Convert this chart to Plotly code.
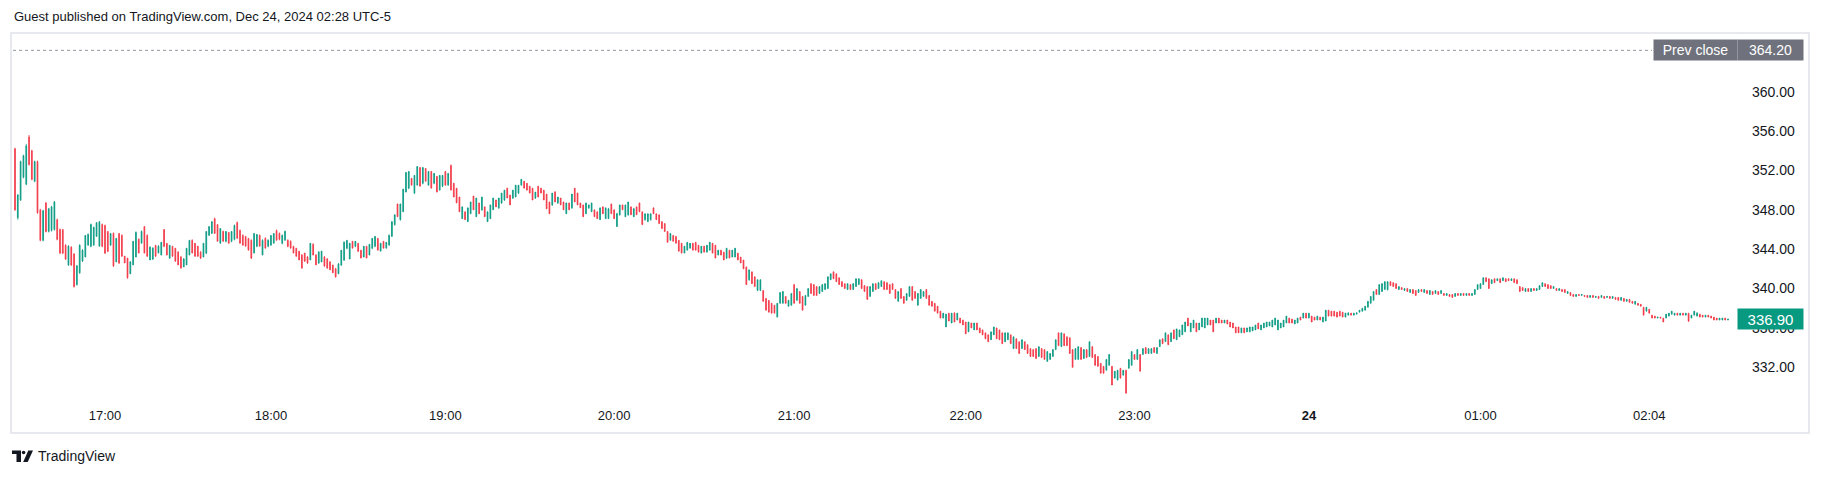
import plotly.graph_objects as go

# ---------------- data (1-minute candles) ----------------
opens = [
354.2,347.2,349.0,351.3,350.6,355.4,354.0,350.9,352.9,348.0,
344.9,348.7,345.8,345.9,346.0,347.0,346.0,346.0,344.4,342.4,
344.2,343.5,340.4,341.6,342.8,343.2,344.4,344.3,344.4,345.3,
344.3,346.5,346.4,345.8,344.4,345.6,342.7,345.6,345.4,343.3,
343.1,341.5,342.4,343.2,345.0,344.6,346.3,345.4,342.9,343.0,
344.4,343.6,343.4,346.0,344.6,343.1,344.3,344.1,343.7,343.2,
342.2,342.4,343.4,344.9,344.6,344.3,343.7,343.2,343.6,345.4,
345.6,347.1,346.5,344.6,345.8,344.8,345.7,344.8,345.0,346.7,
345.9,345.4,345.3,345.1,344.9,343.6,344.3,345.4,343.4,345.1,
344.3,344.4,344.6,345.9,345.6,344.6,344.9,344.9,344.8,344.3,
344.1,343.8,343.4,343.6,343.2,342.9,344.5,343.4,342.6,342.7,
343.2,343.0,342.7,342.4,342.0,341.5,342.4,342.9,344.1,343.0,
344.8,344.3,344.6,343.9,343.2,344.3,343.4,344.1,344.3,345.1,
343.8,344.8,344.1,344.4,345.3,346.5,348.6,347.0,347.8,349.8,
350.2,351.2,349.7,350.5,352.3,350.7,352.2,350.5,351.9,350.7,
351.4,350.0,350.4,351.9,350.5,352.5,350.7,350.2,349.3,347.1,
347.8,346.8,347.6,349.4,347.3,348.7,348.0,348.3,346.8,347.1,
348.0,349.0,348.2,348.7,349.0,350.2,349.5,349.2,349.3,349.7,
350.5,350.9,350.7,350.4,350.2,349.2,350.4,350.2,350.0,349.6,
348.8,348.5,349.8,348.7,349.2,348.8,347.6,348.7,348.2,350.2,
349.7,348.7,348.5,347.6,348.2,347.8,348.0,347.8,347.0,348.3,
347.1,347.1,348.6,348.0,346.3,347.5,348.5,347.3,347.5,348.3,
347.3,348.3,348.7,347.8,347.0,346.8,347.0,348.2,347.6,347.5,
346.8,346.6,345.8,344.9,345.4,345.3,344.9,344.6,343.6,343.9,
344.1,344.6,344.7,344.4,343.6,344.3,343.7,343.9,344.6,344.4,
343.4,343.9,343.7,343.1,343.9,343.2,343.2,343.6,343.2,342.9,
342.2,340.9,341.7,341.2,339.8,339.8,339.8,339.0,338.8,338.5,
338.3,337.1,338.5,338.5,339.2,338.2,338.3,340.4,338.8,339.7,
339.2,338.3,339.2,340.5,340.4,340.2,339.5,339.7,339.9,340.0,
340.9,341.7,341.5,341.1,340.7,340.5,339.9,340.4,339.9,340.2,
340.4,340.9,340.3,340.2,339.2,339.7,340.5,340.0,340.2,340.7,
340.6,340.4,340.5,339.9,338.7,340.0,339.2,338.8,339.2,340.2,
339.7,338.3,339.0,339.2,339.9,339.3,338.7,338.5,338.2,337.7,
337.0,336.1,337.5,336.5,337.5,336.8,337.0,336.8,336.6,335.6,
336.5,335.8,336.5,336.0,335.8,335.5,335.3,334.8,335.3,336.0,
335.8,335.5,334.6,334.8,335.3,333.9,334.9,334.6,333.9,334.6,
334.3,333.9,333.8,333.9,333.1,333.9,333.8,332.6,332.8,333.1,
333.8,335.5,334.1,335.4,335.1,335.0,333.8,332.8,332.8,334.0,
332.9,333.8,333.1,334.1,333.3,333.1,332.4,332.1,331.7,332.2,
332.1,330.9,330.7,331.9,331.2,331.7,331.9,332.2,333.3,332.8,
333.3,333.3,334.0,333.4,333.4,334.0,333.4,334.1,334.9,334.6,
335.3,334.6,335.8,334.8,335.1,335.3,335.6,337.0,335.6,336.0,
336.5,335.8,336.1,336.0,336.3,336.8,336.8,336.5,337.0,336.8,
336.5,336.8,336.6,336.5,336.1,336.1,335.5,336.0,335.6,335.6,
335.7,335.8,336.5,335.8,336.0,336.1,336.2,336.1,336.3,335.8,
336.0,336.1,336.5,337.0,336.9,336.4,336.5,337.1,337.0,337.5,
337.0,337.2,337.1,336.8,337.1,336.6,336.7,337.8,337.7,337.7,
337.6,337.7,337.6,337.1,337.3,337.5,337.3,337.4,337.6,337.7,
337.8,338.1,338.5,338.8,339.9,339.4,339.7,339.9,339.9,340.7,
340.6,340.5,339.9,340.1,339.8,340.0,339.6,339.9,339.8,339.6,
339.9,339.6,339.8,339.4,339.7,339.5,339.7,339.5,339.5,339.3,
339.4,339.4,339.2,339.5,339.3,339.5,339.3,339.5,339.3,339.4,
339.9,340.0,340.4,341.1,341.0,340.5,341.0,340.8,341.0,340.8,
341.0,341.0,340.8,341.0,340.9,340.2,340.1,339.7,340.0,339.7,
340.0,339.8,339.9,340.2,340.5,340.4,340.3,340.0,340.0,339.8,
339.9,339.9,339.5,339.6,339.4,339.2,339.4,339.3,339.3,339.3,
339.1,339.3,339.1,339.2,339.1,339.2,339.1,339.2,339.0,339.1,
339.1,338.8,339.0,338.7,338.9,338.7,338.4,338.5,338.4,338.1,
337.7,337.9,337.3,337.2,337.0,337.1,337.0,337.0,337.2,337.4,
337.3,337.5,337.3,337.5,337.3,337.5,337.0,337.3,337.2,337.4,
337.3,337.1,337.3,337.2,337.1,337.0,336.8,336.8,337.0,336.8,
]
highs = [
354.3,349.6,353.0,353.6,354.7,355.6,354.1,353.0,353.0,348.1,
348.0,348.8,348.2,348.4,348.9,347.1,346.1,346.0,344.5,344.4,
344.3,343.6,342.4,344.5,344.0,345.4,345.6,346.6,346.3,346.7,
346.8,346.6,346.5,345.8,345.6,345.7,345.1,345.6,345.5,343.3,
343.1,342.8,344.8,345.8,345.1,345.9,346.3,345.5,344.3,344.2,
344.4,344.4,344.7,346.0,344.6,344.4,344.3,344.1,343.8,343.3,
343.1,344.1,344.9,345.0,344.6,344.3,343.8,344.6,345.8,346.3,
346.8,347.2,346.5,346.1,345.9,345.8,345.7,345.8,346.5,346.8,
346.0,345.5,345.3,345.1,345.0,345.6,345.5,345.5,345.0,345.2,
345.0,345.4,345.6,346.0,345.7,345.5,345.9,345.0,344.9,344.3,
344.1,343.8,343.5,343.6,343.3,344.6,344.6,343.5,343.8,343.8,
343.3,343.1,342.8,342.4,342.1,342.6,343.9,344.8,344.9,344.6,
344.8,344.8,344.6,343.9,344.3,344.3,344.5,345.1,345.3,345.1,
344.6,344.8,344.7,345.5,346.8,347.5,348.6,348.6,350.1,351.8,
351.9,351.2,351.5,352.4,352.3,352.3,352.2,351.9,351.9,351.7,
351.4,351.5,351.5,351.9,351.7,352.6,350.7,350.2,349.3,348.3,
347.8,348.2,348.8,349.4,349.2,348.7,349.3,348.3,347.8,348.5,
349.2,349.0,349.2,349.7,350.0,350.2,349.5,350.0,350.5,350.5,
351.1,350.9,350.7,350.4,350.2,349.8,350.4,350.2,350.0,349.6,
348.8,349.7,349.9,349.3,349.2,348.8,348.7,348.7,349.6,350.2,
349.7,348.7,348.5,348.7,348.5,348.7,348.0,347.8,348.2,348.3,
348.2,348.2,348.6,348.0,347.7,348.5,348.5,348.5,348.8,348.3,
348.2,348.3,348.7,347.8,347.6,347.6,347.6,348.2,347.6,347.5,
346.8,346.6,345.8,345.6,345.4,345.3,344.9,344.6,344.3,344.7,
344.6,344.6,344.7,344.4,344.3,344.3,344.4,344.7,344.6,344.4,
343.9,343.9,343.7,344.1,343.9,343.9,344.1,343.6,343.2,342.9,
342.2,341.9,341.7,341.2,340.9,340.9,339.8,339.0,338.8,338.5,
338.3,338.5,339.6,339.7,339.2,338.8,339.5,340.4,340.0,339.7,
339.2,339.3,340.0,340.5,340.4,340.2,340.2,340.4,340.5,341.2,
341.5,341.7,341.5,341.1,340.7,340.5,340.5,340.4,340.5,341.0,
341.0,340.9,340.3,340.2,340.2,340.5,340.5,340.6,340.8,340.7,
340.6,340.4,340.5,339.9,339.7,340.0,339.2,339.5,340.2,340.2,
339.7,339.5,339.9,339.7,339.9,339.3,338.7,338.5,338.2,337.7,
337.5,337.4,337.5,337.5,337.6,337.5,337.0,336.8,336.6,336.6,
336.5,336.5,336.5,336.0,335.8,335.5,335.3,335.6,336.1,336.0,
335.8,335.5,335.5,335.5,335.3,335.1,334.9,334.6,334.8,334.6,
334.3,333.9,333.8,333.9,334.1,333.9,333.8,333.6,333.4,333.8,
334.8,335.5,335.5,335.4,335.1,335.0,333.8,333.9,334.1,334.0,
333.8,333.8,334.6,334.1,333.3,333.1,332.4,332.1,332.8,333.3,
332.1,331.6,331.7,331.9,331.7,331.7,332.8,333.6,333.3,333.8,
333.3,333.9,334.0,333.9,333.9,334.0,334.0,334.8,334.9,335.5,
335.3,335.5,335.8,335.9,335.8,336.3,336.6,337.0,336.5,336.8,
336.5,336.5,337.0,337.0,337.0,336.8,336.8,337.0,337.0,336.8,
336.8,336.8,336.6,336.5,336.1,336.1,336.0,336.0,336.0,336.1,
336.1,336.3,336.5,336.3,336.5,336.6,336.6,336.8,337.0,336.8,
336.5,336.8,337.2,337.0,336.9,336.8,337.0,337.1,337.5,337.5,
337.5,337.2,337.1,337.2,337.1,337.1,337.8,337.8,337.7,337.7,
337.6,337.7,337.6,337.5,337.6,337.5,337.5,337.6,337.8,338.0,
338.2,338.7,339.2,339.7,339.9,340.4,340.5,340.7,340.7,340.7,
340.6,340.5,340.2,340.1,340.0,340.0,339.9,339.9,339.8,339.9,
339.9,339.9,339.8,339.8,339.7,339.8,339.7,339.8,339.5,339.5,
339.4,339.4,339.5,339.5,339.5,339.5,339.5,339.5,339.5,339.9,
340.4,340.5,341.1,341.1,341.0,340.9,341.0,341.0,341.0,341.1,
341.0,341.0,341.0,341.0,340.9,340.2,340.1,340.0,340.0,340.0,
340.0,340.0,340.3,340.6,340.5,340.4,340.3,340.2,340.0,340.0,
339.9,339.9,339.7,339.6,339.4,339.4,339.4,339.4,339.3,339.3,
339.3,339.3,339.2,339.2,339.3,339.2,339.2,339.2,339.2,339.1,
339.1,339.1,339.0,338.9,338.9,338.7,338.7,338.5,338.4,338.1,
338.1,337.9,337.3,337.2,337.1,337.1,337.0,337.4,337.5,337.7,
337.5,337.5,337.5,337.5,337.5,337.5,337.3,337.7,337.6,337.4,
337.3,337.3,337.3,337.2,337.1,337.0,337.0,337.0,337.0,336.9,
]
lows = [
347.9,347.0,348.9,351.2,350.5,352.5,351.0,350.8,347.6,344.8,
344.8,345.7,345.7,345.8,345.9,344.9,343.5,343.5,342.9,342.3,
342.3,340.1,340.3,341.5,342.7,343.2,344.4,344.2,344.4,345.3,
344.3,344.2,343.5,343.7,344.4,342.2,342.7,342.5,343.2,342.6,
341.0,341.5,342.4,343.2,343.6,344.6,343.6,343.2,342.9,342.9,
343.2,343.6,343.4,344.2,343.4,343.0,343.2,342.7,342.4,342.0,
342.2,342.4,343.4,343.6,343.2,343.2,343.0,343.2,343.5,345.4,
345.6,345.6,344.8,344.6,344.8,344.7,344.6,344.7,344.9,345.1,
344.6,344.4,344.3,343.9,343.0,343.6,344.2,344.3,343.4,344.1,
344.2,344.4,344.6,344.9,344.9,344.5,344.9,344.2,344.1,343.6,
343.2,342.9,342.0,342.7,342.5,342.9,343.4,342.4,342.5,342.7,
342.2,342.0,341.9,341.6,341.1,341.5,342.3,342.8,344.0,343.0,
344.1,344.2,343.7,343.1,343.2,343.1,343.4,344.0,344.2,343.9,
343.8,344.1,344.1,344.4,345.3,346.4,347.3,346.9,347.8,349.8,
350.1,350.5,349.6,350.5,350.4,350.6,350.9,350.5,350.2,350.6,
349.8,350.0,350.3,350.5,350.5,350.0,349.3,348.7,347.8,347.1,
347.0,346.8,347.6,348.0,347.3,347.6,347.9,347.3,346.8,347.1,
348.0,348.3,348.1,348.6,348.9,349.2,348.5,349.1,349.3,349.6,
350.5,350.2,350.0,349.7,349.0,349.1,349.3,349.7,349.0,348.1,
347.6,348.4,348.8,348.6,348.5,348.0,347.6,348.0,348.1,348.8,
348.5,348.2,347.3,347.6,348.1,347.8,347.3,347.1,347.0,347.6,
347.1,347.1,347.6,347.1,346.3,347.4,348.0,347.3,347.4,347.5,
347.3,347.5,347.8,346.5,346.9,346.8,346.9,347.6,347.0,346.6,
346.1,345.8,344.7,344.9,344.8,344.6,343.8,343.6,343.6,343.9,
344.1,343.9,343.9,343.7,343.6,343.7,343.7,343.9,343.6,343.1,
343.4,343.4,342.9,343.0,343.1,343.2,343.2,342.9,342.6,342.0,
340.4,340.8,340.5,340.2,339.8,339.8,338.7,337.8,337.6,337.5,
337.5,337.1,338.5,338.5,338.5,338.2,338.3,338.5,338.8,338.5,
337.8,338.3,339.2,339.5,339.3,339.3,339.5,339.7,339.9,340.0,
340.9,341.0,340.7,340.4,340.2,340.0,339.9,339.9,339.9,340.2,
340.4,340.0,339.7,338.9,339.2,339.7,339.9,340.0,340.2,339.9,
339.9,339.5,339.9,339.0,338.7,339.0,338.5,338.8,339.2,338.8,
339.0,338.3,339.0,339.2,339.0,338.3,338.2,337.7,337.5,337.0,
337.0,336.1,336.7,336.5,336.6,336.8,336.5,336.3,335.4,335.6,
336.0,335.8,335.8,335.5,335.3,334.9,334.6,334.8,335.3,334.9,
334.8,334.4,334.6,334.8,334.4,333.9,333.9,333.4,333.9,333.8,
333.4,333.1,333.1,332.9,333.1,333.0,332.8,332.6,332.8,333.1,
333.8,334.2,334.1,334.2,334.2,333.4,332.0,332.8,332.8,332.8,
332.9,333.0,333.1,333.0,332.2,332.1,331.4,331.4,331.7,332.2,
330.2,330.9,330.7,330.9,331.2,329.3,331.9,332.2,332.8,332.8,
331.6,333.3,333.4,333.4,333.4,333.5,333.4,334.1,334.4,334.6,
334.3,334.6,334.9,334.8,335.1,335.3,335.6,336.2,335.6,336.0,
335.6,335.8,336.1,336.0,336.3,336.3,335.6,336.5,336.5,336.5,
336.5,336.4,336.1,336.0,335.5,335.5,335.5,335.5,335.6,335.6,
335.7,335.8,335.9,335.8,336.0,336.1,336.2,336.1,336.3,335.8,
336.0,336.1,336.5,336.5,336.5,336.4,336.5,336.8,337.0,337.0,
337.0,336.6,336.8,336.8,336.8,336.6,336.7,337.2,337.2,337.2,
337.1,337.2,337.1,337.1,337.3,337.3,337.3,337.4,337.6,337.7,
337.8,338.1,338.5,338.8,339.4,339.4,339.7,339.9,339.8,340.3,
340.2,340.0,339.9,339.9,339.8,339.7,339.6,339.5,339.3,339.6,
339.7,339.6,339.5,339.4,339.4,339.5,339.4,339.5,339.3,339.3,
339.2,339.1,339.2,339.3,339.3,339.3,339.3,339.3,339.3,339.4,
339.9,340.0,340.4,340.7,340.0,340.5,340.6,340.8,340.6,340.8,
340.7,340.8,340.8,340.6,340.5,339.7,339.8,339.7,339.7,339.7,
339.8,339.8,339.9,340.2,340.2,340.0,340.0,340.0,339.8,339.8,
339.7,339.6,339.5,339.3,339.2,339.2,339.3,339.3,339.2,339.1,
339.1,339.1,339.1,339.0,339.1,339.0,339.1,339.0,339.0,338.9,
338.8,338.8,338.7,338.7,338.6,338.5,338.4,338.3,338.2,337.3,
337.7,337.5,337.0,337.0,337.0,337.0,336.6,337.0,337.2,337.4,
337.3,337.3,337.3,337.3,337.3,336.6,337.0,337.3,337.2,337.1,
337.1,337.1,337.1,337.0,336.8,336.8,336.8,336.8,336.8,336.8,
]
closes = [
348.0,349.5,352.9,353.5,354.5,352.6,351.1,352.9,347.7,344.9,
347.9,345.8,348.1,348.3,348.8,345.0,343.6,343.6,343.0,344.3,
342.4,340.2,342.3,344.4,343.9,345.4,345.5,346.5,346.2,346.7,
346.8,344.3,343.6,343.8,345.6,342.3,345.1,342.6,343.3,342.6,
341.1,342.7,344.8,345.7,343.6,345.8,343.6,343.3,344.2,344.1,
343.3,344.3,344.7,344.3,343.4,344.4,343.3,342.8,342.4,342.1,
343.0,344.1,344.9,343.6,343.3,343.3,343.1,344.6,345.8,346.3,
346.8,345.6,344.8,346.1,344.8,345.8,344.6,345.8,346.4,345.1,
344.6,344.4,344.3,343.9,343.1,345.6,345.5,344.3,344.9,344.1,
344.9,345.4,345.6,344.9,345.0,345.4,345.8,344.3,344.1,343.6,
343.3,342.9,342.1,342.8,342.6,344.6,343.4,342.4,343.7,343.8,
342.3,342.1,341.9,341.6,341.2,342.5,343.9,344.7,344.9,344.6,
344.1,344.8,343.8,343.1,344.3,343.1,344.5,345.1,345.3,343.9,
344.6,344.1,344.7,345.4,346.8,347.5,347.3,348.6,350.1,351.8,
351.9,350.5,351.5,352.4,350.4,352.3,350.9,351.9,350.2,351.7,
349.8,351.5,351.5,350.5,351.7,350.0,349.3,348.7,347.8,348.3,
347.0,348.2,348.8,348.0,349.2,347.6,349.3,347.3,347.8,348.5,
349.2,348.3,349.2,349.7,350.0,349.2,348.5,350.0,350.5,350.5,
351.1,350.2,350.0,349.7,349.0,349.8,349.3,349.7,349.0,348.1,
347.6,349.7,348.8,349.3,348.5,348.0,348.7,348.0,349.6,348.8,
348.5,348.2,347.3,348.7,348.5,348.7,347.3,347.1,348.2,347.6,
348.2,348.1,347.6,347.1,347.6,348.5,348.0,348.5,348.8,347.5,
348.1,347.5,347.8,346.5,347.6,347.6,347.6,347.6,347.0,346.6,
346.1,345.8,344.7,345.6,344.8,344.6,343.8,343.6,344.3,344.7,
344.6,343.9,343.9,343.7,344.3,343.7,344.4,344.7,343.6,343.1,
343.9,343.4,342.9,344.1,343.1,343.9,344.1,342.9,342.6,342.0,
340.4,341.9,340.5,340.2,340.9,340.9,338.7,337.8,337.6,337.5,
337.5,338.5,339.6,339.7,338.5,338.8,339.5,338.5,340.0,338.5,
337.8,339.3,340.0,339.5,339.3,339.3,340.2,340.4,340.5,341.2,
341.5,341.0,340.7,340.4,340.2,340.0,340.5,339.9,340.5,341.0,
341.0,340.0,339.7,338.9,340.2,340.5,339.9,340.6,340.8,339.9,
339.9,339.5,339.9,339.0,339.7,339.0,338.5,339.5,340.2,338.8,
339.0,339.5,339.9,339.7,339.0,338.3,338.2,337.7,337.5,337.0,
337.5,337.4,336.7,337.5,336.6,337.5,336.5,336.3,335.4,336.6,
336.0,336.5,335.8,335.5,335.3,334.9,334.6,335.6,336.1,334.9,
334.8,334.4,335.5,335.5,334.4,335.1,333.9,333.4,334.8,333.8,
333.4,333.1,333.1,332.9,334.1,333.0,332.8,333.6,333.4,333.8,
334.8,334.2,335.5,334.2,334.2,333.4,332.0,333.9,334.1,332.8,
333.8,333.0,334.6,333.0,332.2,332.1,331.4,331.4,332.8,333.3,
330.2,331.6,331.7,330.9,331.7,329.4,332.8,333.6,332.8,333.8,
331.6,333.9,333.4,333.9,333.9,333.5,334.0,334.8,334.4,335.5,
334.3,335.5,334.9,335.9,335.8,336.3,336.6,336.2,336.5,336.8,
335.6,336.5,337.0,337.0,337.0,336.3,335.6,337.0,336.5,336.5,
336.8,336.4,336.1,336.0,335.5,335.5,336.0,335.5,336.0,336.1,
336.1,336.3,335.9,336.3,336.5,336.6,336.6,336.8,337.0,336.8,
336.5,336.8,337.2,336.5,336.5,336.8,337.0,336.8,337.5,337.0,
337.5,336.6,336.8,337.2,336.8,337.1,337.8,337.2,337.2,337.2,
337.1,337.2,337.1,337.5,337.5,337.3,337.5,337.5,337.8,338.0,
338.2,338.7,339.2,339.7,339.4,340.4,340.5,340.7,340.7,340.3,
340.2,340.0,340.2,339.9,340.0,339.7,339.9,339.5,339.3,339.9,
339.7,339.9,339.5,339.8,339.4,339.8,339.4,339.8,339.3,339.5,
339.2,339.1,339.5,339.3,339.5,339.3,339.5,339.3,339.5,339.9,
340.4,340.5,341.1,340.7,340.0,340.9,340.6,341.0,340.6,341.1,
340.7,340.8,341.0,340.6,340.5,339.7,339.8,340.0,339.7,340.0,
339.8,340.0,340.3,340.6,340.2,340.0,340.0,340.2,339.8,340.0,
339.7,339.6,339.7,339.3,339.2,339.4,339.3,339.4,339.2,339.1,
339.3,339.1,339.2,339.0,339.3,339.0,339.2,339.0,339.2,338.9,
338.8,339.1,338.7,338.9,338.6,338.5,338.7,338.3,338.2,337.3,
338.1,337.5,337.0,337.0,337.1,337.0,336.6,337.4,337.5,337.7,
337.5,337.3,337.5,337.3,337.5,336.7,337.3,337.7,337.5,337.1,
337.1,337.3,337.1,337.0,336.8,336.8,337.0,337.0,336.8,336.9,
]

# candle index at which each time label sits, and the labels themselves
time_tick_index = [32, 91, 153, 213, 277, 338, 398, 460, 521, 581]
time_tick_labels = ["17:00", "18:00", "19:00", "20:00", "21:00", "22:00",
                    "23:00", "<b>24</b>", "01:00", "02:04"]
price_ticks = [332, 336, 340, 344, 348, 352, 356, 360]
prev_close = 364.20
last_price = closes[-1]
title_text = "Guest published on TradingView.com, Dec 24, 2024 02:28 UTC-5"
brand_text = "TradingView"

# ---------------- style / geometry ----------------
PAGE_OFF = 8                      # default <body> margin of the html page
W, H = 1823 - PAGE_OFF, 478 - PAGE_OFF
UP, DOWN = "#089981", "#f23645"
TEXT = "#131722"
FONT = "Liberation Sans, Arial, sans-serif"
PAD = 4
# plot area in page pixels
PL, PR, PT, PB = 11, 1747, 34, 402


def xp(px):
    return (px - PL) / (PR - PL)


def yp(py):
    return (PB - py) / (PB - PT)


x = list(range(len(closes)))

fig = go.Figure(go.Candlestick(
    x=x, open=opens, high=highs, low=lows, close=closes,
    increasing=dict(line=dict(color=UP, width=0.8), fillcolor=UP),
    decreasing=dict(line=dict(color=DOWN, width=0.8), fillcolor=DOWN),
    whiskerwidth=0, hoverinfo="skip", showlegend=False,
))

shapes = [
    dict(type="rect", xref="paper", yref="paper",
         x0=xp(11), x1=xp(1809), y0=yp(433), y1=yp(33),
         line=dict(color="#e7e9ee", width=2), fillcolor="rgba(0,0,0,0)", layer="below"),
    dict(type="line", xref="paper", yref="y", x0=xp(13), x1=xp(1652),
         y0=prev_close, y1=prev_close, line=dict(color="#9598a1", width=1, dash="dot")),
]


def poly(points):
    return "M " + " L ".join(f"{xp(a):.6f},{yp(b):.6f}" for a, b in points) + " Z"


shapes += [
    dict(type="path", xref="paper", yref="paper", line=dict(width=0), fillcolor=TEXT,
         path=poly([(12, 450.5), (21, 450.5), (21, 462), (16.5, 462), (16.5, 454), (12, 454)])),
    dict(type="circle", xref="paper", yref="paper", line=dict(width=0), fillcolor=TEXT,
         x0=xp(21.8), x1=xp(25.4), y0=yp(454.3), y1=yp(450.7)),
    dict(type="path", xref="paper", yref="paper", line=dict(width=0), fillcolor=TEXT,
         path=poly([(28.3, 450.5), (33, 450.5), (27.7, 462), (23.2, 462)])),
]

annotations = [
    dict(text=title_text, xref="paper", yref="paper", x=xp(12), y=yp(16.5),
         xanchor="left", yanchor="middle", showarrow=False,
         font=dict(family=FONT, size=13, color=TEXT)),
    dict(text=brand_text, xref="paper", yref="paper", x=xp(36), y=yp(456),
         xanchor="left", yanchor="middle", showarrow=False,
         font=dict(family=FONT, size=14, color=TEXT)),
    dict(text="Prev close", xref="paper", yref="y", x=xp(1695.5), y=prev_close,
         xanchor="center", yanchor="middle", showarrow=False,
         width=83, height=20, borderpad=0, bgcolor="#6f727d",
         font=dict(family=FONT, size=14, color="#ffffff")),
    dict(text=f"{prev_close:.2f}", xref="paper", yref="y", x=xp(1770.5), y=prev_close,
         xanchor="center", yanchor="middle", showarrow=False,
         width=65, height=20, borderpad=0, bgcolor="#6f727d",
         font=dict(family=FONT, size=14, color="#ffffff")),
    dict(text=f"{last_price:.2f}", xref="paper", yref="y", x=xp(1770.5), y=last_price,
         xanchor="center", yanchor="middle", showarrow=False,
         width=65, height=20, borderpad=0, bgcolor=UP,
         font=dict(family=FONT, size=15, color="#ffffff")),
]

fig.update_layout(
    width=W, height=H,
    margin=dict(l=PL - PAGE_OFF, r=W - (PR - PAGE_OFF), t=PT - PAGE_OFF,
                b=H - (PB - PAGE_OFF), pad=PAD, autoexpand=False),
    paper_bgcolor="#ffffff", plot_bgcolor="#ffffff",
    font=dict(family=FONT, color=TEXT, size=13),
    boxgap=0.6,
    shapes=shapes, annotations=annotations,
    xaxis=dict(range=[-1.42, 615.76], tickvals=time_tick_index, ticktext=time_tick_labels,
               showgrid=False, zeroline=False, showline=False, ticks="",
               rangeslider=dict(visible=False), fixedrange=True, automargin=False,
               tickfont=dict(family=FONT, size=13, color=TEXT)),
    yaxis=dict(side="right", range=[328.475, 365.862], tickvals=price_ticks,
               tickformat=".2f", showgrid=False, zeroline=False, showline=False,
               ticks="", fixedrange=True, automargin=False,
               tickfont=dict(family=FONT, size=14, color=TEXT)),
)

fig.write_html("out.html")
